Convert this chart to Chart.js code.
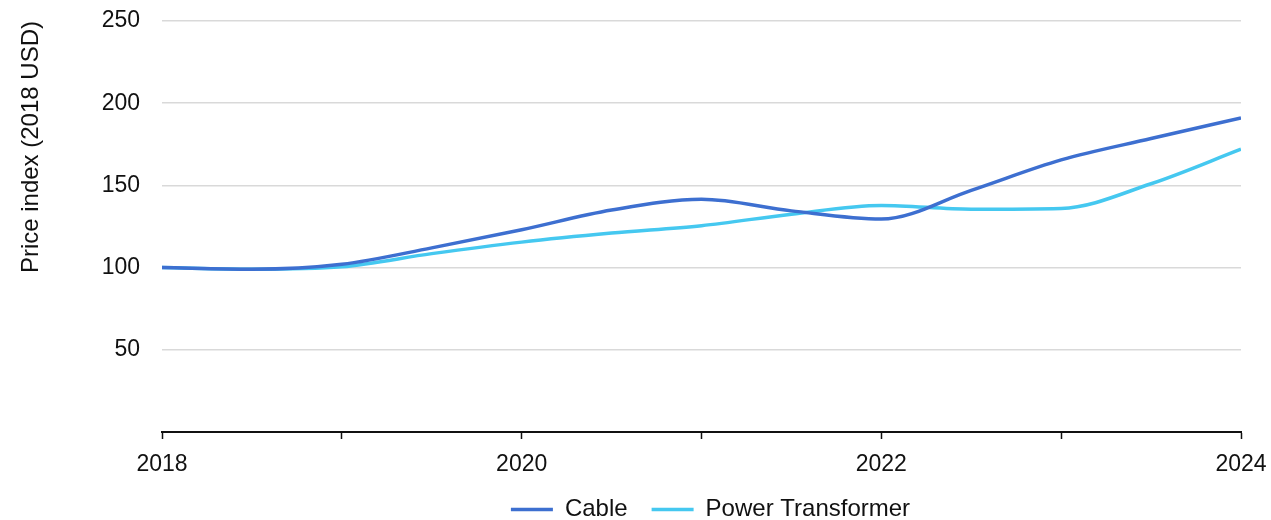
<!DOCTYPE html>
<html>
<head>
<meta charset="utf-8">
<script src="https://cdn.jsdelivr.net/npm/chart.js@4/dist/chart.umd.min.js"></script>
<style>
html,body{margin:0;padding:0;background:#fff;}
#wrap{width:1271px;height:520px;position:relative;}
</style>
</head>
<body>
<div id="wrap"><canvas id="c"></canvas></div>
<script>
const years = [2018, 2018.5, 2019, 2019.5, 2020, 2020.5, 2021, 2021.5, 2022, 2022.5, 2023, 2023.5, 2024];
const cable = [100, 99, 102, 112, 123, 135, 141.5, 134.5, 129.5, 147, 165.5, 178.5, 191];
const powerTransformer = [100, 99, 100.5, 108.5, 115.5, 121, 125.5, 132.5, 137.8, 135.5, 136, 151, 172];
const xLabeled = [2018, 2020, 2022, 2024];
const yTicks = [50, 100, 150, 200, 250];
const seriesNames = ['Cable', 'Power Transformer'];

const font = "'Liberation Sans', Arial, sans-serif";
const toPts = arr => arr.map((v, i) => ({x: years[i], y: v}));

const legendShift = {
  id: 'legendShift',
  afterLayout(chart) {
    if (chart.legend) { chart.legend.left += 9; chart.legend.right += 9; }
  }
};

new Chart(document.getElementById('c'), {
  type: 'line',
  plugins: [legendShift],
  data: {
    datasets: [
      {label: seriesNames[0], data: toPts(cable), borderColor: '#3D6FD0', backgroundColor: '#3D6FD0',
       borderWidth: 3.5, pointRadius: 0, tension: 0.4, cubicInterpolationMode: 'monotone'},
      {label: seriesNames[1], data: toPts(powerTransformer), borderColor: '#45C8F0', backgroundColor: '#45C8F0',
       borderWidth: 3.5, pointRadius: 0, tension: 0.4, cubicInterpolationMode: 'monotone'}
    ]
  },
  options: {
    responsive: true,
    maintainAspectRatio: false,
    animation: false,
    layout: {padding: {top: 21, right: 30, left: 0, bottom: -11.5}},
    plugins: {
      tooltip: {enabled: false},
      legend: {
        position: 'bottom',
        fullSize: false,
        labels: {
          font: {family: font, size: 24},
          color: '#111',
          usePointStyle: true,
          pointStyle: 'line',
          pointStyleWidth: 42,
          boxWidth: 42,
          padding: 24
        }
      }
    },
    scales: {
      x: {
        type: 'linear',
        min: 2018, max: 2024,
        border: {display: true, color: '#111', width: 2},
        grid: {drawOnChartArea: false, drawTicks: true, tickLength: 7, tickColor: '#111', tickWidth: 1.5},
        afterFit: axis => { axis.height = 41.5; axis.paddingLeft = 0; axis.paddingRight = 0; },
        ticks: {
          stepSize: 1,
          font: {family: font, size: 23},
          color: '#111',
          padding: 12,
          maxRotation: 0,
          autoSkip: false,
          callback: v => xLabeled.includes(v) ? String(v) : ''
        }
      },
      y: {
        min: 0, max: 250,
        border: {display: false},
        grid: {color: '#d9d9d9', lineWidth: 1.5, drawTicks: false},
        afterBuildTicks: axis => { axis.ticks = [0].concat(yTicks).map(v => ({value: v})); },
        afterFit: axis => { axis.width = 162; axis.paddingTop = 0; axis.paddingBottom = 0; },
        ticks: {
          font: {family: font, size: 23},
          color: '#111',
          padding: 22,
          callback: v => v === 0 ? '' : String(v)
        },
        title: {
          display: true,
          text: 'Price index (2018 USD)',
          align: 'end',
          font: {family: font, size: 24},
          color: '#111',
          padding: {top: 17, bottom: 0}
        }
      }
    }
  }
});
</script>
</body>
</html>
